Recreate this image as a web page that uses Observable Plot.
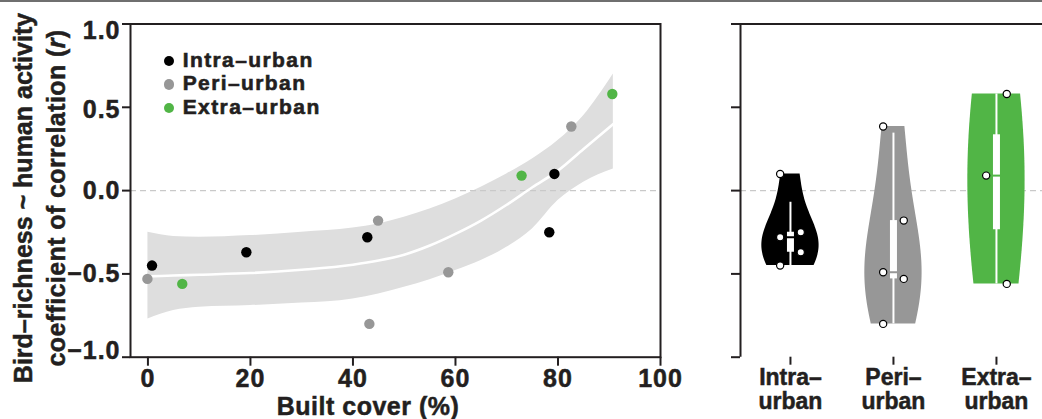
<!DOCTYPE html>
<html>
<head>
<meta charset="utf-8">
<script src="https://cdn.jsdelivr.net/npm/d3@7"></script>
<script src="https://cdn.jsdelivr.net/npm/@observablehq/plot@0.6"></script>
<style>
html, body { margin: 0; padding: 0; background: #fff; }
#wrap { position: relative; width: 1042px; height: 419px; overflow: hidden;
  font-family: "Liberation Sans", Arial, sans-serif; font-weight: bold; color: #231f20; }
#left, #right { position: absolute; top: 0; }
#left { left: 0; }
#right { left: 700px; }
#wrap svg text { stroke: #231f20; stroke-width: 0.5px; }
#left g[aria-label$="tick label"] { letter-spacing: 1px; }
.topbar { position: absolute; left: 0; top: 0; width: 1042px; height: 2px; background: #6f6f6f; z-index: 5; }
.ytitle { position: absolute; top: 198px; font-size: 25px; line-height: 25px; white-space: nowrap;
  transform: translate(-50%, -50%) rotate(-90deg); z-index: 4; -webkit-text-stroke: 0.5px #231f20; }
.xtitle { position: absolute; left: 368px; top: 394px; font-size: 25px; line-height: 25px; white-space: nowrap;
  letter-spacing: 0.5px; transform: translateX(-50%); z-index: 4; -webkit-text-stroke: 0.5px #231f20; }
.legend { position: absolute; left: 164px; top: 47.5px; z-index: 4; }
.legend .row { position: relative; height: 23.6px; font-size: 21px; line-height: 23.5px; padding-left: 18.7px;
  letter-spacing: 1.4px; white-space: nowrap; -webkit-text-stroke: 0.6px #231f20; }
.legend .dot { position: absolute; left: 0; top: 8.3px; width: 10.4px; height: 10.4px; border-radius: 50%; }
</style>
</head>
<body>
<div id="wrap">
  <div class="topbar"></div>
  <div id="left"></div>
  <div id="right"></div>
  <div class="ytitle" id="yt1" style="left:23px"></div>
  <div class="ytitle" id="yt2" style="left:56px; letter-spacing:0.4px"></div>
  <div class="xtitle" id="xt"></div>
  <div class="legend" id="legend"></div>
</div>
<script>
// ---------- data ----------
const groups = ["Intra–urban", "Peri–urban", "Extra–urban"];
const groupTickLabels = ["Intra–\nurban", "Peri–\nurban", "Extra–\nurban"];
const groupColors = ["#000000", "#979797", "#51b546"];

const intraCover = [0.8, 19.2, 42.8, 79.3, 78.3];
const intraR     = [-0.45, -0.37, -0.28, 0.10, -0.25];
const periCover  = [-0.1, 44.9, 43.2, 58.6, 82.6];
const periR      = [-0.53, -0.18, -0.80, -0.49, 0.385];
const extraCover = [6.7, 72.9, 90.6];
const extraR     = [-0.56, 0.09, 0.58];

// fitted curve and confidence band
const fitCover = [0, 5, 10, 20, 30, 40, 45, 50, 55, 60, 65, 70, 75, 80, 85, 90.8];
const fitR     = [-0.515, -0.51, -0.505, -0.495, -0.475, -0.445, -0.42, -0.385, -0.33, -0.26, -0.18, -0.085, 0.02, 0.12, 0.25, 0.40];
const fitLow   = [-0.77, -0.72, -0.70, -0.69, -0.675, -0.65, -0.62, -0.58, -0.535, -0.48, -0.42, -0.34, -0.23, -0.06, 0.05, 0.13];
const fitHigh  = [-0.25, -0.275, -0.28, -0.27, -0.25, -0.225, -0.20, -0.16, -0.11, -0.05, 0.02, 0.10, 0.19, 0.30, 0.45, 0.70];

const yTicks = [-1, -0.5, 0, 0.5, 1];
const xTicks = [0, 20, 40, 60, 80, 100];

const yTitle1 = "Bird–richness ~ human activity";
const yTitle2 = "coefficient of correlation (<i>r</i>)";
const xTitle = "Built cover (%)";

// ---------- build tables ----------
const covers = [intraCover, periCover, extraCover];
const rs = [intraR, periR, extraR];
const points = [];
covers.forEach((cx, g) => cx.forEach((x, i) => points.push({x, r: rs[g][i], color: groupColors[g]})));
const fit = fitCover.map((x, i) => ({x, y: fitR[i], lo: fitLow[i], hi: fitHigh[i]}));

// violin + box stats
const bandwidths = [0.17, 0.35, 0.7];
const halfWidth = 0.278;
const violin = [];
const stats = [];
const vpoints = [];
rs.forEach((vals, g) => {
  const sorted = vals.slice().sort(d3.ascending);
  const lo = sorted[0], hi = sorted[sorted.length - 1];
  const n = 120;
  const grid = d3.range(n + 1).map(k => lo + (hi - lo) * k / n);
  const dens = grid.map(y => d3.sum(vals, v => Math.exp(-0.5 * ((y - v) / bandwidths[g]) ** 2)));
  const dmax = d3.max(dens);
  grid.forEach((y, k) => {
    const w = dens[k] / dmax * halfWidth;
    violin.push({g, y, x1: g - w, x2: g + w, color: groupColors[g]});
  });
  const q1 = d3.quantile(sorted, 0.25), q3 = d3.quantile(sorted, 0.75), med = d3.quantile(sorted, 0.5);
  const iqr = q3 - q1;
  stats.push({i: g, q1, q3, med, wlo: Math.max(lo, q1 - 1.5 * iqr), whi: Math.min(hi, q3 + 1.5 * iqr), color: groupColors[g]});
  // alternate the overlaid points left/right, top to bottom
  const first = med > 0 ? 1 : -1;
  const order = d3.range(vals.length).sort((a, b) => vals[b] - vals[a]);
  order.forEach((j, k) => vpoints.push({x: g + (k % 2 === 0 ? first : -first) * 0.1, r: vals[j]}));
});

const ink = "#231f20";
const baseStyle = {fontFamily: "Liberation Sans, Arial, sans-serif", fontWeight: "bold", fontSize: "25px", color: ink, background: "transparent"};

// ---------- left panel ----------
const left = Plot.plot({
  width: 700, height: 419,
  marginLeft: 130, marginRight: 40, marginTop: 23.5, marginBottom: 62.3,
  x: {domain: [-3.4, 100]},
  y: {domain: [-1, 1]},
  color: {type: "identity"},
  style: baseStyle,
  marks: [
    Plot.areaY(fit, {x: "x", y1: "lo", y2: "hi", fill: "#dedede", curve: "monotone-x"}),
    Plot.ruleY([0], {stroke: "#c9c9c9", strokeWidth: 1.3, strokeDasharray: "6,4"}),
    Plot.line(fit, {x: "x", y: "y", stroke: "white", strokeWidth: 2.6, curve: "monotone-x"}),
    Plot.dot(points, {x: "x", y: "r", fill: "color", r: 5.2}),
    Plot.frame({stroke: ink, strokeWidth: 2}),
    Plot.axisY({ticks: yTicks, tickFormat: d3.format(".1f"), tickSize: 8, tickPadding: 2, strokeWidth: 2, label: null, fontSize: 25}),
    Plot.axisX({ticks: xTicks, tickSize: 9, tickPadding: 3, strokeWidth: 2, label: null, fontSize: 25})
  ]
});
document.getElementById("left").appendChild(left);
// labels at the extremes sit slightly inward, as in the original
d3.select(left).selectAll('[aria-label="y-axis tick label"] text').each(function () {
  const v = +this.textContent.replace("\u2212", "-");
  if (Math.abs(v) === 1) d3.select(this).attr("dy", v * 6.5);
  else if (v === 0.5) d3.select(this).attr("dy", 2.5);
});

// ---------- right panel ----------
const xDom = [-0.485, 2.447];
const right = Plot.plot({
  width: 342, height: 419,
  marginLeft: 40, marginRight: 0, marginTop: 23.5, marginBottom: 62.3,
  x: {domain: xDom},
  y: {domain: [-1, 1]},
  color: {type: "identity"},
  style: baseStyle,
  marks: [
    Plot.ruleY([0], {stroke: "#c9c9c9", strokeWidth: 1.3, strokeDasharray: "6,4"}),
    Plot.areaX(violin, {y: "y", x1: "x1", x2: "x2", z: "g", fill: "color", curve: "linear"}),
    Plot.ruleX(stats, {x: "i", y1: "wlo", y2: "whi", stroke: "white", strokeWidth: 2}),
    Plot.ruleX(stats, {x: "i", y1: "q1", y2: "q3", stroke: "white", strokeWidth: 7}),
    Plot.ruleY(stats, {y: "med", x1: d => d.i - 0.045, x2: d => d.i + 0.045, stroke: "color", strokeWidth: 2}),
    Plot.dot(vpoints, {x: "x", y: "r", fill: "white", stroke: "black", strokeWidth: 1.2, r: 3.6}),
    Plot.ruleY([1], {stroke: ink, strokeWidth: 2}),
    Plot.ruleX([xDom[0]], {stroke: ink, strokeWidth: 2}),
    Plot.axisY({ticks: yTicks, tickSize: 9, tickFormat: () => "", strokeWidth: 2, label: null}),
    Plot.axisX({ticks: [0, 1, 2], tickFormat: i => groupTickLabels[i], tickSize: 8, tickPadding: 2,
      strokeWidth: 2, lineHeight: 1.07, fontSize: 23, label: null})
  ]
});
document.getElementById("right").appendChild(right);

// ---------- titles & legend ----------
document.getElementById("yt1").textContent = yTitle1;
document.getElementById("yt2").innerHTML = yTitle2;
document.getElementById("xt").textContent = xTitle;
const legend = d3.select("#legend");
groups.forEach((g, i) => {
  const row = legend.append("div").attr("class", "row");
  row.append("span").attr("class", "dot").style("background", groupColors[i]);
  row.append("span").text(g);
});
</script>
</body>
</html>
